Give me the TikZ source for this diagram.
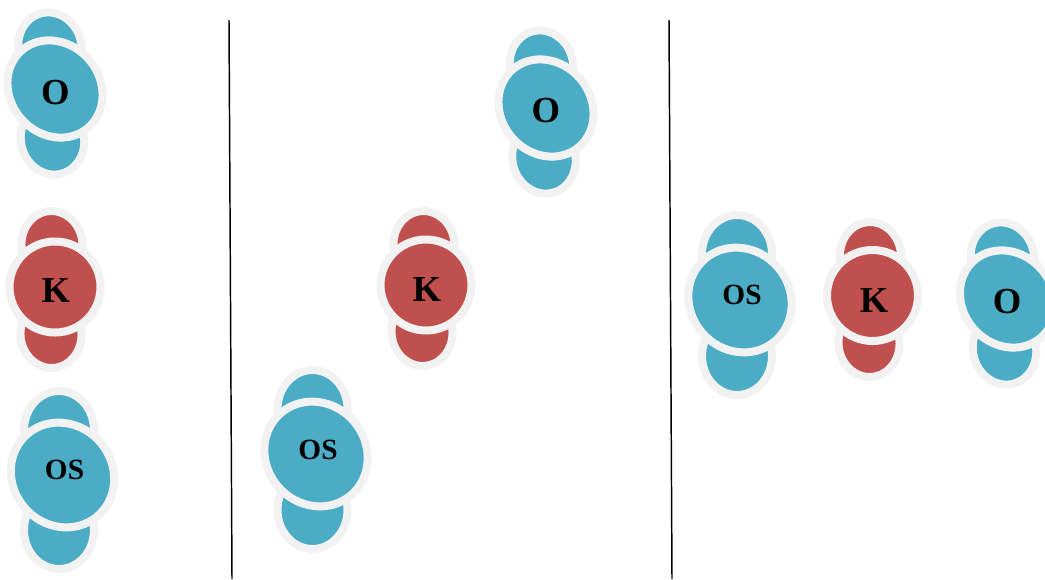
\documentclass[tikz,border=0pt]{standalone}
\usepackage{fontspec}
\setmainfont{Liberation Serif}
\usepackage{xcolor}
\usetikzlibrary{shapes.geometric}
\definecolor{atomblue}{HTML}{4BACC6}
\definecolor{atomred}{HTML}{C0504D}
\definecolor{atomrim}{HTML}{F2F2F2}
\tikzset{
    atom/.style = {ellipse, inner sep=0pt, outer sep=0pt, draw=atomrim, line width=6pt},
    blue_lobe/.style = {atom, fill=atomblue, minimum width=47.25pt, minimum height=53pt, rotate=15},
    red_lobe/.style = {atom, fill=atomred, minimum width=45.75pt, minimum height=51pt, rotate=5},
    wide_lobe/.style = {atom, fill=atomblue, minimum width=52.5pt, minimum height=58.5pt},
    o_body/.style = {atom, fill=atomblue, minimum width=76.5pt, minimum height=67.5pt, rotate=-50},
    k_body/.style = {atom, fill=atomred, minimum width=68.25pt, minimum height=68.25pt},
    os_body/.style = {atom, fill=atomblue, minimum width=81pt, minimum height=75pt, rotate=-50},
    big_text/.style = {inner sep=0pt, font=\fontsize{27.5pt}{30pt}\selectfont\bfseries},
    small_text/.style = {inner sep=0pt, font=\fontsize{22pt}{24pt}\selectfont\bfseries},
    divider/.style = {draw=black, line width=1.1pt}
}
\begin{document}
\begin{tikzpicture}[x=0.75pt, y=-0.75pt]
    \useasboundingbox (0,0) rectangle (1045,579);

    \coordinate (left_top) at (229,20);
    \coordinate (left_end) at (232,579);
    \coordinate (right_top) at (669,20);
    \coordinate (right_end) at (672,579);
    \draw [divider] (left_top) -- (left_end);
    \draw [divider] (right_top) -- (right_end);

    % first column
    \node [blue_lobe] (o1_top) at (50,47.5) {};
    \node [blue_lobe] (o1_bot) at (52.5,139.5) {};
    \node [o_body] (o1_body) at (55,89) {};
    \node [big_text] (o1_text) at (55.5,93) {O};

    \node [red_lobe] (k1_top) at (52,245) {};
    \node [red_lobe] (k1_bot) at (51,334) {};
    \node [k_body] (k1_body) at (55,287) {};
    \node [big_text] (k1_text) at (56,290) {K};

    \node [wide_lobe] (os1_top) at (59,430) {};
    \node [wide_lobe] (os1_bot) at (59,530) {};
    \node [os_body] (os1_body) at (62.5,475) {};
    \node [small_text] (os1_text) at (64.5,470) {OS};

    % second column
    \node [blue_lobe] (o2_top) at (541.5,65.5) {};
    \node [blue_lobe] (o2_bot) at (544,158.5) {};
    \node [o_body] (o2_body) at (546,108) {};
    \node [big_text] (o2_text) at (546,111) {O};

    \node [red_lobe] (k2_top) at (424,245) {};
    \node [red_lobe] (k2_bot) at (422,332) {};
    \node [k_body] (k2_body) at (426,285) {};
    \node [big_text] (k2_text) at (427,289) {K};

    \node [wide_lobe] (os2_top) at (312.5,409) {};
    \node [wide_lobe] (os2_bot) at (312.5,510) {};
    \node [os_body] (os2_body) at (316,454) {};
    \node [small_text] (os2_text) at (318,450) {OS};

    % third column
    \node [wide_lobe] (os3_top) at (737,254) {};
    \node [wide_lobe] (os3_bot) at (737,356) {};
    \node [os_body] (os3_body) at (740,300) {};
    \node [small_text] (os3_text) at (742,295) {OS};

    \node [red_lobe] (k3_top) at (870.5,256) {};
    \node [red_lobe] (k3_bot) at (869,343) {};
    \node [k_body] (k3_body) at (872.5,295.5) {};
    \node [big_text] (k3_text) at (874,300) {K};

    \node [blue_lobe] (o3_top) at (1002.5,257.5) {};
    \node [blue_lobe] (o3_bot) at (1004.5,349.5) {};
    \node [o_body] (o3_body) at (1007.5,299) {};
    \node [big_text] (o3_text) at (1007,302) {O};
\end{tikzpicture}
\end{document}
